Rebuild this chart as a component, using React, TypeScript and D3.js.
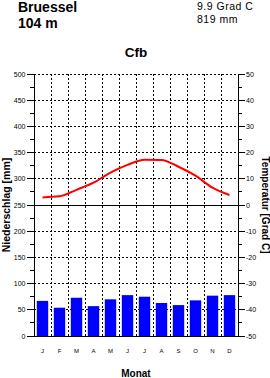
import React from "react";
import * as d3 from "d3";

const months = ["J", "F", "M", "A", "M", "J", "J", "A", "S", "O", "N", "D"];
const precip = [67, 54, 73, 57, 70, 78, 75, 63, 59, 68, 77, 78];
const temp = [2.9, 3.3, 5.8, 8.5, 12.4, 15.3, 17.3, 17.2, 14.6, 11.2, 6.6, 3.8];
const precipTicks = [0, 50, 100, 150, 200, 250, 300, 350, 400, 450, 500];
const tempTicks = [-50, -40, -30, -20, -10, 0, 10, 20, 30, 40, 50];

const station = "Bruessel";
const elevation = "104 m";
const meanTemp = "9.9 Grad C";
const totalPrecip = "819 mm";
const climate = "Cfb";

const W = 270, H = 378;
const L = 34, R = 238, T = 74, B = 336;
const FONT = "'Liberation Sans', Arial, Helvetica, sans-serif";

export default function App() {
  const x = d3.scaleBand<number>().domain(d3.range(12)).range([L, R]).paddingInner(0.33).paddingOuter(0.165);
  const step = (R - L) / 12;
  const yP = d3.scaleLinear().domain([0, 500]).range([B, T]);
  const yT = d3.scaleLinear().domain([-50, 50]).range([B, T]);
  const cx = (i: number) => L + step * (i + 0.5);
  const line = d3.line<number>().x((_, i) => cx(i)).y((d) => yT(d)).curve(d3.curveMonotoneX);
  const minorP = d3.range(25, 500, 50);
  const minorT = d3.range(-45, 50, 10);

  return (
    <svg width={W} height={H} style={{ position: "absolute", left: 0, top: 0, background: "#fff" }} fontFamily={FONT}>
      <rect x={0} y={0} width={W} height={H} fill="#fff" />
      {/* header */}
      <text x={18} y={12} fontSize={14} fontWeight="bold">{station}</text>
      <text x={18} y={27.5} fontSize={14} fontWeight="bold">{elevation}</text>
      <text x={197} y={10} fontSize={10.5} letterSpacing={0.5}>{meanTemp}</text>
      <text x={197} y={23.3} fontSize={10.5} letterSpacing={0.5}>{totalPrecip}</text>
      <text x={(L + R) / 2} y={56.7} fontSize={13.5} fontWeight="bold" textAnchor="middle">{climate}</text>

      {/* grid */}
      <g stroke="#000" strokeWidth={1} strokeDasharray="2,2" shapeRendering="crispEdges">
        {precipTicks.filter((v) => v !== 0 && v !== 250).map((v) => (
          <line key={"h" + v} x1={L} x2={R} y1={yP(v)} y2={yP(v)} />
        ))}
        {d3.range(1, 12).map((i) => (
          <line key={"v" + i} x1={L + step * i} x2={L + step * i} y1={T} y2={B} />
        ))}
      </g>

      {/* bars */}
      {precip.map((v, i) => (
        <rect key={"b" + i} x={x(i)} y={yP(v)} width={x.bandwidth()} height={B - yP(v)} fill="#0000ff" />
      ))}

      {/* axes */}
      <g stroke="#000" strokeWidth={1} shapeRendering="crispEdges">
        <line x1={L} x2={L} y1={T} y2={B} />
        <line x1={R} x2={R} y1={T} y2={B} />
        <line x1={L} x2={R} y1={B} y2={B} />
        <line x1={L} x2={R} y1={yP(250)} y2={yP(250)} />
        {precipTicks.map((v) => <line key={"lt" + v} x1={L - 7} x2={L} y1={yP(v)} y2={yP(v)} />)}
        {minorP.map((v) => <line key={"lm" + v} x1={L - 4} x2={L} y1={yP(v)} y2={yP(v)} />)}
        {tempTicks.map((v) => <line key={"rt" + v} x1={R} x2={R + 7} y1={yT(v)} y2={yT(v)} />)}
        {minorT.map((v) => <line key={"rm" + v} x1={R} x2={R + 4} y1={yT(v)} y2={yT(v)} />)}
      </g>

      {/* temperature line */}
      <path d={line(temp) || ""} fill="none" stroke="#ff0000" strokeWidth={2} />

      {/* tick labels */}
      <g fontSize={7}>
        {precipTicks.map((v) => (
          <text key={"pl" + v} x={L - 8.5} y={yP(v) + 2.5} textAnchor="end">{v}</text>
        ))}
        {tempTicks.map((v) => (
          <text key={"tl" + v} x={R + 8} y={yT(v) + 2.5}>{v}</text>
        ))}
      </g>
      <g fontSize={6}>
        {months.map((m, i) => (
          <text key={"m" + i} x={cx(i)} y={353} textAnchor="middle">{m}</text>
        ))}
      </g>

      {/* axis titles */}
      <text x={(L + R) / 2} y={377} fontSize={10} fontWeight="bold" textAnchor="middle">Monat</text>
      <text transform={`translate(9.7,${(T + B) / 2}) rotate(-90)`} fontSize={10.5} fontWeight="bold" textAnchor="middle">Niederschlag [mm]</text>
      <text transform={`translate(261.5,${(T + B) / 2}) rotate(90)`} fontSize={10} fontWeight="bold" textAnchor="middle">Temperatur [Grad C]</text>
    </svg>
  );
}
